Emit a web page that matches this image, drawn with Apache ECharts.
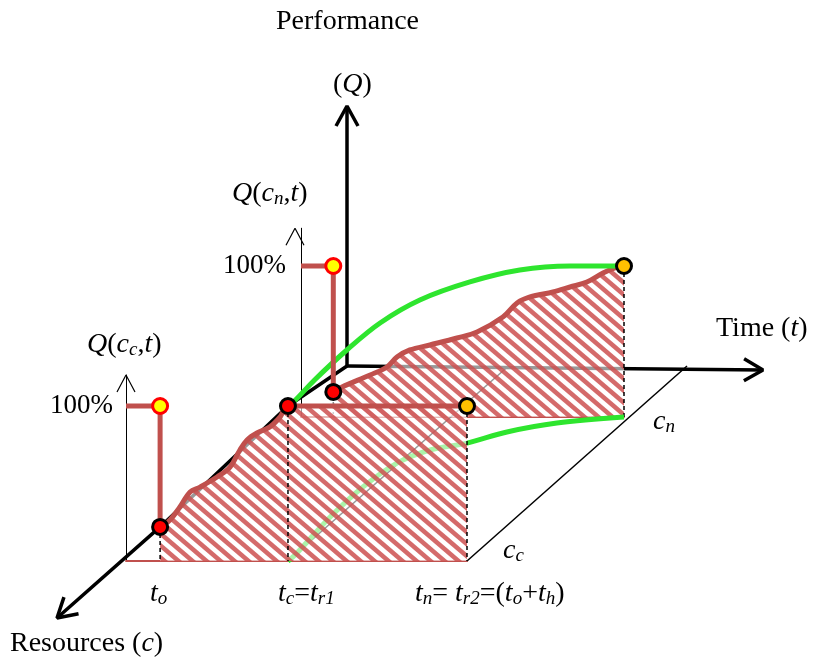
<!DOCTYPE html>
<html>
<head>
<meta charset="utf-8">
<script src="https://cdn.jsdelivr.net/npm/echarts@6/dist/echarts.min.js"></script>
<style>
  html, body { margin: 0; padding: 0; background: #fff; }
  #chart { width: 817px; height: 667px; }
</style>
</head>
<body>
<div id="chart"></div>
<script>
// ---- data -------------------------------------------------------------
// characteristic instants on the time axis
const T_O = 1.0;    // disruption
const T_C = 4.75;   // recovery with current resources (t_c = t_r1)
const T_N = 10;     // recovery with new resources (t_n = t_r2)

// Q(c_c, t): performance with current resources c_c (percent)
const ccStepT = [0, T_O, T_O];
const ccStepQ = [100, 100, 22];
const ccRecoveryT = [1.0, 1.29, 1.58, 1.88, 2.17, 2.67, 3.05, 3.34, 3.55, 3.84, 4.22, 4.52, 4.75, 10];
const ccRecoveryQ = [22, 26.5, 34.8, 44.5, 47.7, 54.2, 60.6, 71.6, 78.1, 82.6, 86.5, 92.9, 100, 100];

// Q(c_n, t): performance with new resources c_n (percent)
const cnStepT = [0, T_O, T_O];
const cnStepQ = [100, 100, 16.6];
const cnRecoveryT = [1.0, 1.27, 2.14, 2.66, 2.97, 3.37, 3.99, 4.83, 5.45, 6.25, 6.69, 7.09, 7.80, 8.33, 8.85, 9.35, 9.78, 10];
const cnRecoveryQ = [16.6, 19.9, 27.8, 33.1, 39.7, 44.4, 47.7, 52.3, 56.3, 66.2, 75.5, 79.5, 82.8, 86.1, 89.4, 95.4, 99.3, 100];

// resource scale-up path from c_c (0) to c_n (1), at full performance and on the floor
const topPathT     = [4.75, 4.76, 4.62, 4.52, 4.55, 4.93, 5.81, 6.92, 8.33, 10];
const topPathShift = [0, 0.043, 0.186, 0.4, 0.593, 0.757, 0.886, 0.971, 1, 1];
const floorPathT     = [4.75, 4.74, 4.49, 4.43, 4.62, 5.17, 6.06, 6.9, 8.13, 10];
const floorPathShift = [0, 0.056, 0.306, 0.514, 0.68, 0.771, 0.819, 0.896, 0.958, 1];

// ---- layout of the oblique drawing ------------------------------------
const PLANE_CC = { left: 126, base: 561, tPx: 34.1, qPx: 1.55, qMax: 120 };
const PLANE_CN = { left: 301, base: 417, tPx: 32.3, qPx: 1.51, qMax: 125 };
const BACK = { left: 347, base: 366, tPx: 34 };
const FRAME = { corner: [347, 366], qTip: [347, 106], tTip: [763, 370], cTip: [57, 618] };

const RED = '#c0504d';
const GREEN = '#2ee52e';
const SERIF = 'Liberation Serif';

function onPlane(p, t, q) { return [p.left + t * p.tPx, p.base - (q || 0) * (p.qPx || 0)]; }
function between(t, q, f) {
  const a = onPlane(PLANE_CC, t, q), b = onPlane(PLANE_CN, t, q);
  return [a[0] + (b[0] - a[0]) * f, a[1] + (b[1] - a[1]) * f];
}
function pairs(xs, ys) { return xs.map((x, i) => [x, ys[i]]); }
function chevron(tip, from, len, half) {
  const dx = tip[0] - from[0], dy = tip[1] - from[1], L = Math.hypot(dx, dy);
  const ux = dx / L, uy = dy / L;
  const bx = tip[0] - ux * len, by = tip[1] - uy * len;
  return [[bx - uy * half, by + ux * half], tip, [bx + uy * half, by - ux * half]];
}
function hatchPattern() {
  const ph = 14, pv = 12;                 // stripe period along x and along y
  const w = ph * 2, h = pv * 2;
  const c = document.createElement('canvas');
  c.width = w; c.height = h;
  const g = c.getContext('2d');
  g.fillStyle = 'rgba(255,255,255,0.6)';
  g.fillRect(0, 0, w, h);
  g.strokeStyle = 'rgba(205,80,80,0.85)';
  g.lineWidth = 4.5;
  const slope = pv / ph;
  for (let k = -8; k <= 8; k++) {
    g.beginPath();
    g.moveTo(-30, -30 * slope + pv * k);
    g.lineTo(w + 30, (w + 30) * slope + pv * k);
    g.stroke();
  }
  return c;
}
const HATCH = { image: hatchPattern(), repeat: 'repeat' };

// ---- series helpers ---------------------------------------------------
function overlay(data, style, z, smooth) {
  return { type: 'line', xAxisIndex: 0, yAxisIndex: 0, data, symbol: 'none', silent: true,
           smooth: smooth || false, lineStyle: style, z, animation: false };
}
function planeLine(idx, data, style, z, extra) {
  return Object.assign({ type: 'line', xAxisIndex: idx, yAxisIndex: idx, data, symbol: 'none',
                         silent: true, lineStyle: style, z, animation: false }, extra || {});
}
function dots(idx, data, fill, border, z) {
  return { type: 'scatter', xAxisIndex: idx, yAxisIndex: idx, data, symbolSize: 15, silent: true, z,
           itemStyle: { color: fill, borderColor: border, borderWidth: 3, opacity: 1 }, animation: false };
}
function gridFor(p) {
  return { left: p.left, top: p.base - p.qMax * p.qPx, width: T_N * p.tPx, height: p.qMax * p.qPx };
}
function planeX(i) {
  return { gridIndex: i, type: 'value', min: 0, max: T_N,
           axisLine: { show: true, onZero: false, lineStyle: { color: RED, width: 2 } },
           axisTick: { show: false }, axisLabel: { show: false }, splitLine: { show: false } };
}
function planeY(i, p, offset, margin) {
  return { gridIndex: i, type: 'value', min: 0, max: p.qMax, interval: 100, offset,
           axisLine: { show: true, lineStyle: { color: '#000', width: 1 } },
           axisTick: { show: false }, splitLine: { show: false },
           axisLabel: { margin, color: '#000', fontFamily: SERIF, fontSize: 27,
                        formatter: v => (v === 100 ? '100%' : '') } };
}

// ---- geometry derived from the data ------------------------------------
const ccDrop = ccStepQ[2], cnDrop = cnStepQ[2];
const black = w => ({ color: '#000', width: w });
const cnAxisX = PLANE_CN.left - 6;
const ccTipThin = [PLANE_CC.left, PLANE_CC.base - PLANE_CC.qMax * PLANE_CC.qPx];
const cnTipThin = [cnAxisX, PLANE_CN.base - PLANE_CN.qMax * PLANE_CN.qPx];

const series = [
  // 3-D frame: performance, time and resources axes
  overlay([FRAME.corner, FRAME.qTip], black(3.5), 1),
  overlay(chevron(FRAME.qTip, FRAME.corner, 20, 11), black(3.5), 1),
  overlay([FRAME.corner, FRAME.tTip], black(3.5), 1),
  overlay(chevron(FRAME.tTip, FRAME.corner, 19, 11), black(3.5), 1),
  overlay([FRAME.corner, onPlane(PLANE_CC, T_C, 100), onPlane(PLANE_CC, T_O, ccDrop), FRAME.cTip], black(3.5), 1),
  overlay(chevron(FRAME.cTip, onPlane(PLANE_CC, T_O, ccDrop), 19, 11), black(3.5), 1),
  // resource lines at t_c and t_n
  overlay([onPlane(PLANE_CC, T_C, 0), onPlane(BACK, T_C)], black(1.6), 1),
  overlay([onPlane(PLANE_CC, T_N, 0), onPlane(BACK, T_N)], black(1.5), 1),
  // thin Q arrows of each plane
  overlay(chevron(ccTipThin, [ccTipThin[0], PLANE_CC.base], 17, 9), black(1.2), 3),
  overlay(chevron(cnTipThin, [cnTipThin[0], PLANE_CN.base], 17, 9), black(1.2), 3),

  // plane c_n
  planeLine(1, pairs(cnRecoveryT, cnRecoveryQ), { color: RED, width: 5 }, 2,
            { smooth: 0.35, areaStyle: { color: HATCH, opacity: 1 } }),
  planeLine(1, [[T_N, 100], [T_N, 0]], { color: '#000', width: 1.5, type: [4, 3] }, 2.5),
  planeLine(1, [[T_O, cnDrop], [T_O, 0]], { color: '#888', width: 1.5, type: [2, 3] }, 2.5),

  // scale-up path
  overlay(pairs(topPathT, topPathShift).map(d => between(d[0], 100, d[1])), { color: GREEN, width: 5 }, 3, 0.35),
  overlay(pairs(floorPathT, floorPathShift).map(d => between(d[0], 0, d[1])), { color: GREEN, width: 5 }, 3, 0.35),

  planeLine(1, pairs(cnStepT, cnStepQ), { color: RED, width: 5 }, 6),

  // plane c_c
  planeLine(2, pairs(ccRecoveryT, ccRecoveryQ), { color: RED, width: 5 }, 4,
            { smooth: 0.35, areaStyle: { color: HATCH, opacity: 1 } }),
  planeLine(2, [[T_O, ccDrop], [T_O, 0]], { color: '#000', width: 1.5, type: [4, 3] }, 5),
  planeLine(2, [[T_C, 100], [T_C, 0]], { color: '#000', width: 1.5, type: [4, 3] }, 5),
  planeLine(2, [[T_N, 100], [T_N, 0]], { color: '#000', width: 1.5, type: [4, 3] }, 5),
  planeLine(2, pairs(ccStepT, ccStepQ), { color: RED, width: 5 }, 6),

  // state markers
  dots(1, [[T_O, cnDrop]], '#ff0000', '#000', 7),
  dots(1, [[T_O, 100]], '#ffff00', '#ff0000', 7),
  dots(1, [[T_N, 100]], '#ffc000', '#000', 7),
  dots(2, [[T_O, ccDrop], [T_C, 100]], '#ff0000', '#000', 7),
  dots(2, [[T_O, 100]], '#ffff00', '#ff0000', 7),
  dots(2, [[T_N, 100]], '#ffc000', '#000', 7)
];

// ---- text ---------------------------------------------------------------
const RICH = {
  i: { fontStyle: 'italic', fontSize: 28, fontFamily: SERIF, fill: '#000' },
  s: { fontStyle: 'italic', fontSize: 19, fontFamily: SERIF, fill: '#000', verticalAlign: 'bottom', lineHeight: 12 }
};
function label(x, y, text) {
  return { type: 'text', x, y, silent: true, z: 10,
           style: { text, rich: RICH, fontSize: 28, fontFamily: SERIF, fill: '#000',
                    align: 'left', verticalAlign: 'middle' } };
}
const labels = [
  label(276, 22, 'Performance'),
  label(333, 85, '({i|Q})'),
  label(232, 194, '{i|Q}({i|c}{s|n},{i|t})'),
  label(87, 345, '{i|Q}({i|c}{s|c},{i|t})'),
  label(716, 329, 'Time ({i|t})'),
  label(653, 422, '{i|c}{s|n}'),
  label(503, 551, '{i|c}{s|c}'),
  label(150, 594, '{i|t}{s|o}'),
  label(278, 594, '{i|t}{s|c}={i|t}{s|r1}'),
  label(415, 594, '{i|t}{s|n}= {i|t}{s|r2}=({i|t}{s|o}+{i|t}{s|h})'),
  label(10, 644, 'Resources ({i|c})')
];

const chart = echarts.init(document.getElementById('chart'), null, { renderer: 'canvas' });
chart.setOption({
  animation: false,
  backgroundColor: '#fff',
  grid: [
    { left: 0, top: 0, width: 817, height: 667 },
    gridFor(PLANE_CN),
    gridFor(PLANE_CC)
  ],
  xAxis: [
    { gridIndex: 0, type: 'value', min: 0, max: 817, show: false },
    planeX(1),
    planeX(2)
  ],
  yAxis: [
    { gridIndex: 0, type: 'value', min: 0, max: 667, inverse: true, show: false },
    planeY(1, PLANE_CN, 6, 9),
    planeY(2, PLANE_CC, 1, 12)
  ],
  series,
  graphic: labels
});
</script>
</body>
</html>
